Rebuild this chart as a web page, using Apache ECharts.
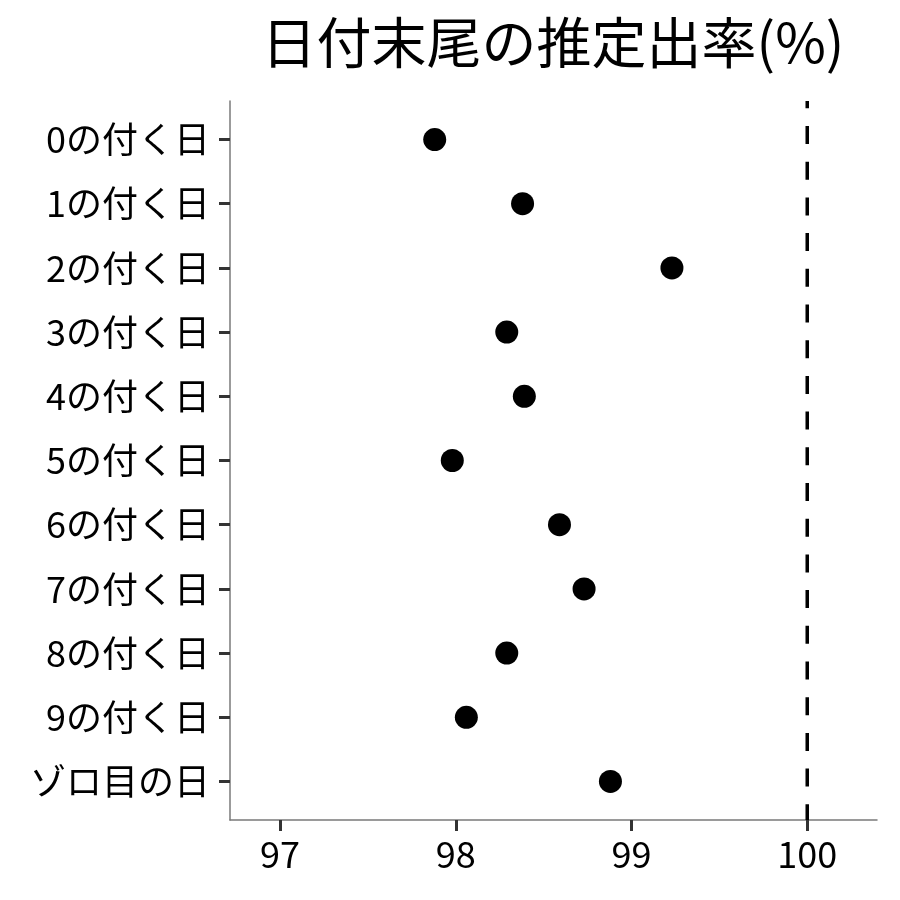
<!DOCTYPE html>
<html>
<head>
<meta charset="utf-8">
<script src="https://cdn.jsdelivr.net/npm/echarts@6/dist/echarts.min.js"></script>
<style>
  html, body { margin: 0; padding: 0; background: #fff; }
  #main { width: 900px; height: 900px; }
</style>
</head>
<body>
<div id="main"></div>
<script>
// 日付の末尾ごとの推定出率
var categories = ['0の付く日', '1の付く日', '2の付く日', '3の付く日', '4の付く日',
  '5の付く日', '6の付く日', '7の付く日', '8の付く日', '9の付く日', 'ゾロ目の日'];
var rates = [97.88, 98.38, 99.23, 98.29, 98.39, 97.98, 98.59, 98.73, 98.29, 98.06, 98.88];
var xTicks = [97, 98, 99, 100];
var refValue = 100;

var font = 'Noto Sans CJK JP';
var chart = echarts.init(document.getElementById('main'));

var points = rates.map(function (v, i) { return [v, i]; });
var catIdx = categories.map(function (c, i) { return i; });

var option = {
  animation: false,
  backgroundColor: '#fff',
  title: {
    text: '日付末尾の推定出率(%)',
    left: 548,
    textAlign: 'center',
    top: 10,
    textStyle: { fontFamily: font, fontSize: 55, fontWeight: 'normal', color: '#000' }
  },
  grid: { left: 230, right: 23, top: 101, bottom: 80 },
  xAxis: {
    type: 'value',
    min: 96.715,
    max: 100.397,
    splitLine: { show: false },
    axisLine: { onZero: false, lineStyle: { color: '#7a7a7a', width: 1.5 } },
    axisTick: { customValues: xTicks, length: 11, lineStyle: { color: '#333', width: 3 } },
    axisLabel: {
      customValues: xTicks, margin: 16,
      fontFamily: font, fontSize: 36, color: '#000'
    }
  },
  yAxis: {
    type: 'value',
    inverse: true,
    min: -0.6,
    max: 10.6,
    splitLine: { show: false },
    axisLine: { onZero: false, lineStyle: { color: '#7a7a7a', width: 1.5 } },
    axisTick: { customValues: catIdx, length: 11, lineStyle: { color: '#333', width: 3 } },
    axisLabel: {
      customValues: catIdx, margin: 20,
      fontFamily: font, fontSize: 36, color: '#000',
      formatter: function (v) { return categories[Math.round(v)]; }
    }
  },
  series: [
    {
      type: 'line',
      data: [[refValue, -0.6], [refValue, 10.6]],
      symbol: 'none',
      lineStyle: { color: '#000', width: 3.5, type: [18, 17.7], dashOffset: 10.7 },
      z: 1
    },
    {
      type: 'scatter',
      data: points,
      symbolSize: 23,
      itemStyle: { color: '#000', opacity: 1 },
      z: 3
    }
  ]
};

chart.setOption(option);
</script>
</body>
</html>
